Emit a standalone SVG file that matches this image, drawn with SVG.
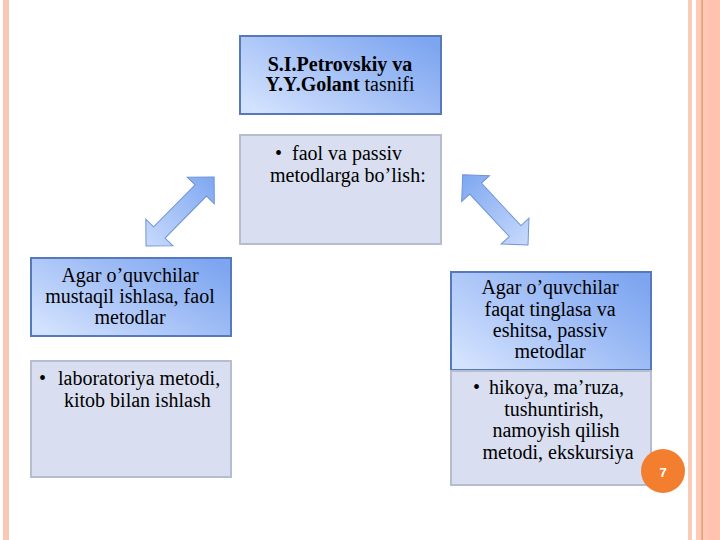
<svg xmlns="http://www.w3.org/2000/svg" width="720" height="540" viewBox="0 0 720 540">
<defs>
<linearGradient id="gBox" x1="0" y1="0.85" x2="1" y2="0.15">
<stop offset="0" stop-color="#D3E2FE"/>
<stop offset="0.55" stop-color="#A2BFF6"/>
<stop offset="1" stop-color="#7DA5F0"/>
</linearGradient>
<linearGradient id="gArrow" x1="0" y1="0" x2="1" y2="0">
<stop offset="0" stop-color="#C8DAFC"/>
<stop offset="1" stop-color="#7EA7F0"/>
</linearGradient>
<style>
.head{fill:url(#gBox);stroke:#5679BA;stroke-width:2}
.body{fill:#D9DFF0;stroke:#B6BDCE;stroke-width:2}
text{font-family:'Liberation Serif','Times New Roman',serif;font-size:20px;fill:#000}
.t{text-anchor:middle}
.b{font-weight:bold}
.arr{fill:url(#gArrow);stroke:#7094D6;stroke-width:1}
</style>
</defs>
<rect width="720" height="540" fill="#FFFFFF"/>
<g id="frame">
<rect x="3" y="0" width="6" height="540" fill="#F8C9B5"/>
<rect x="688" y="0" width="4" height="540" fill="#F8CCB8"/>
<rect x="696" y="0" width="24" height="540" fill="#FCCAB6"/>
<rect x="707" y="0" width="13" height="540" fill="#FFC3B0"/>
<rect x="701.5" y="0" width="1.2" height="540" fill="#E39066"/>
</g>
<g id="connectors">
<path class="arr" transform="translate(146,246) rotate(-45.4)" d="M0,0 L19,-19 L19,-8 L78,-8 L78,-19 L97,0 L78,19 L78,8 L19,8 L19,19 Z"/>
<path class="arr" transform="translate(528,245) rotate(-132.9)" d="M0,0 L19,-19 L19,-8 L77,-8 L77,-19 L96,0 L77,19 L77,8 L19,8 L19,19 Z"/>
</g>
<g id="n-title">
<rect class="head" x="240" y="36" width="201" height="78"/>
<text class="t b" x="340" y="71">S.I.Petrovskiy va</text>
<text class="t" x="340" y="91"><tspan class="b">Y.Y.Golant</tspan> tasnifi</text>
</g>
<g id="n-split">
<rect class="body" x="240" y="135" width="201" height="109"/>
<text y="160"><tspan x="275">•</tspan><tspan x="292">faol va passiv</tspan></text>
<text x="270" y="182">metodlarga bo’lish:</text>
</g>
<g id="n-active">
<rect class="head" x="31" y="258" width="200" height="78"/>
<text class="t" x="130" y="282">Agar o’quvchilar</text>
<text class="t" x="130" y="303">mustaqil ishlasa, faol</text>
<text class="t" x="130" y="324">metodlar</text>
</g>
<g id="n-active-list">
<rect class="body" x="31" y="361" width="200" height="116"/>
<text y="385"><tspan x="39">•</tspan><tspan x="58">laboratoriya metodi,</tspan></text>
<text x="64" y="407">kitob bilan ishlash</text>
</g>
<g id="n-passive">
<rect class="head" x="451" y="272" width="200" height="98"/>
<text class="t" x="550" y="294">Agar o’quvchilar</text>
<text class="t" x="550" y="316">faqat tinglasa va</text>
<text class="t" x="550" y="337">eshitsa, passiv</text>
<text class="t" x="550" y="358">metodlar</text>
</g>
<g id="n-passive-list">
<rect class="body" x="451" y="371" width="200" height="114"/>
<text y="394"><tspan x="473">•</tspan><tspan x="489">hikoya, ma’ruza,</tspan></text>
<text class="t" x="554" y="416">tushuntirish,</text>
<text class="t" x="556" y="437">namoyish qilish</text>
<text class="t" x="558" y="459">metodi, ekskursiya</text>
</g>
<g id="page-number">
<circle cx="663" cy="471" r="22" fill="#F47E2F"/>
<text x="663" y="477" style="font-family:'Liberation Sans',Arial,sans-serif;font-size:13px;font-weight:bold;fill:#FFFFFF" text-anchor="middle">7</text>
</g>
</svg>
